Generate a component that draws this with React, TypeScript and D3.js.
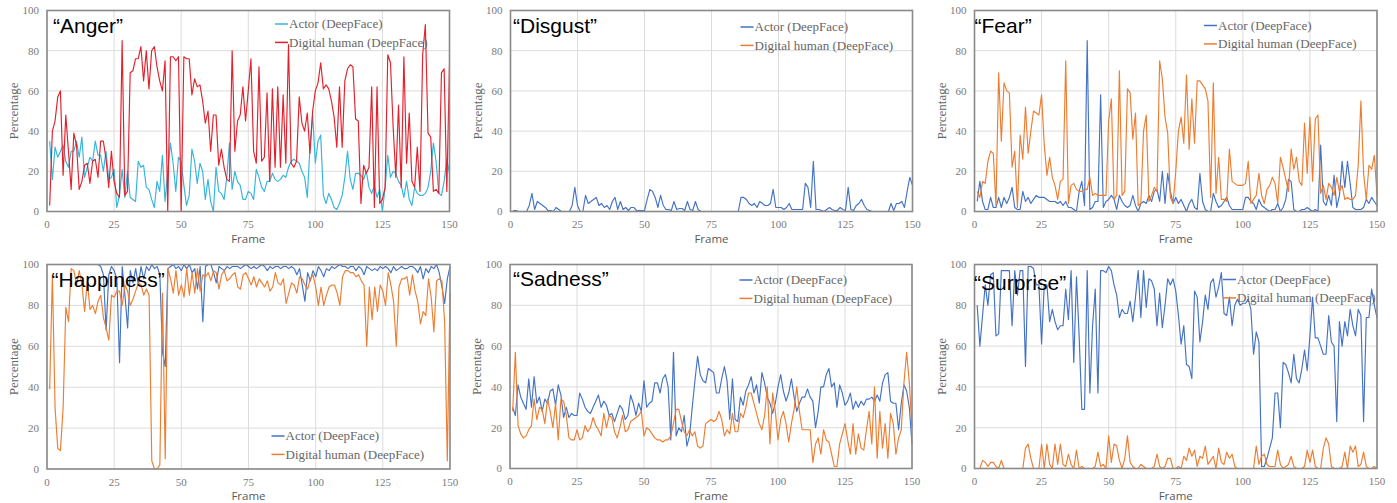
import React from "react";
import * as d3 from "d3";

// frames 1..150, percentages
const xTicks = [0, 25, 50, 75, 100, 125, 150];
const yTicks = [0, 20, 40, 60, 80, 100];
const legendLabels = ["Actor (DeepFace)", "Digital human (DeepFace)"];

const angerActor = [
  35, 16, 32, 27, 30, 33, 25, 22, 30, 30,
  35, 27, 37, 17, 22, 27, 25, 35, 28, 28,
  20, 30, 16, 17, 21, 2, 8, 21, 7, 20,
  7, 6, 5, 25, 22, 23, 12, 11, 6, 2,
  15, 10, 28, 5, 20, 34, 24, 10, 27, 25,
  13, 3, 8, 31, 25, 14, 24, 20, 6, 16,
  5, 0, 22, 10, 9, 6, 17, 34, 11, 20,
  15, 13, 6, 6, 10, 9, 6, 21, 17, 12,
  10, 15, 15, 19, 16, 15, 16, 18, 17, 22,
  25, 26, 25, 24, 20, 17, 7, 32, 48, 24,
  35, 38, 8, 4, 9, 6, 2, 1, 4, 8,
  17, 30, 16, 11, 19, 19, 18, 16, 20, 12,
  9, 13, 7, 11, 0, 12, 28, 17, 20, 19,
  15, 13, 7, 15, 6, 3, 12, 9, 8, 8,
  9, 12, 20, 34, 25, 9, 8, 15, 26, 19,
];
const angerDigital = [
  3, 40, 45, 57, 60, 18, 48, 30, 11, 39,
  33, 11, 15, 23, 24, 14, 25, 26, 17, 35,
  35, 26, 12, 30, 15, 9, 7, 85, 8, 10,
  69, 70, 76, 76, 82, 65, 80, 61, 80, 82,
  72, 65, 60, 75, 0, 77, 77, 75, 77, 0,
  77, 76, 76, 58, 66, 62, 63, 55, 44, 50,
  30, 48, 48, 23, 31, 22, 16, 15, 80, 30,
  45, 48, 62, 45, 60, 76, 30, 24, 72, 25,
  27, 59, 15, 61, 22, 62, 22, 58, 24, 83,
  24, 22, 25, 57, 44, 40, 49, 29, 50, 60,
  64, 74, 61, 63, 61, 55, 47, 32, 62, 32,
  65, 71, 73, 72, 46, 45, 4, 23, 19, 22,
  62, 2, 62, 4, 6, 12, 78, 74, 42, 17,
  53, 12, 77, 24, 49, 15, 12, 32, 10, 78,
  93, 39, 37, 10, 11, 9, 69, 71, 10, 73,
];

const disgustActor = [
  0.5, 0.5, 0, 0, 0, 0, 3, 9, 1, 5,
  4, 3, 2, 0.5, 0.5, 0, 2, 1, 0, 0,
  0, 0, 3, 12, 3, 0, 0, 8, 4, 5,
  6, 7, 3, 4, 2, 3, 1, 5, 7, 1,
  5, 1, 2, 0.5, 2, 2, 0.5, 0.5, 0.5, 0.5,
  6, 11, 10, 7, 2, 8, 3, 1, 1, 0.5,
  5, 1, 1.5, 1.5, 0.5, 5, 1, 0.5, 5, 1,
  0, 0, 0, 0, 0, 0, 0, 0, 0, 0,
  0, 0, 0, 0, 0, 7, 7, 6, 4, 3,
  4, 2, 5, 4, 3, 3, 4, 11, 2, 2,
  2, 1, 2, 4, 1, 1, 1, 1, 1, 14,
  12, 2, 25, 1, 1, 0.5, 0, 1, 2, 1,
  0.5, 0.5, 2, 1, 0.5, 12, 1, 0.5, 3, 4,
  6, 3, 1, 0.5, 0, 0, 0, 0, 0, 0,
  0, 4, 0.5, 4, 4, 5, 2, 10, 17, 13,
];
const disgustDigital = [
  0, 0, 0, 0, 0, 0, 0, 0, 0, 0,
  0, 0, 0, 0, 0, 0, 0, 0, 0, 0,
  0, 0, 0, 0, 0, 0, 0, 0, 0, 0,
  0, 0, 0, 0, 0, 0, 0, 0, 0, 0,
  0, 0, 0, 0, 0, 0, 0, 0, 0, 0,
  0, 0, 0, 0, 0, 0, 0, 0, 0, 0,
  0, 0, 0, 0, 0, 0, 0, 0, 0, 0,
  0, 0, 0, 0, 0, 0, 0, 0, 0, 0,
  0, 0, 0, 0, 0, 0, 0, 0, 0, 0,
  0, 0, 0, 0, 0, 0, 0, 0, 0, 0,
  0, 0, 0, 0, 0, 0, 0, 0, 0, 0,
  0, 0, 0, 0, 0, 0, 0, 0, 0, 0,
  0, 0, 0, 0, 0, 0, 0, 0, 0, 0,
  0, 0, 0, 0, 0, 0, 0, 0, 0, 0,
  0, 0, 0, 0, 0, 0, 0, 0, 0, 0,
];

const fearActor = [
  5, 15, 5, 1, 1, 7, 2, 2, 7, 2,
  7, 4, 7, 12, 2, 1, 1, 10, 5, 7,
  4, 6, 8, 7, 7, 7, 6, 5, 5, 5,
  4, 5, 3, 5, 2, 2, 1, 0, 10, 15,
  3, 85, 1, 2, 5, 5, 58, 2, 5, 6,
  8, 6, 1, 8, 5, 3, 2, 3, 8, 3,
  0, 4, 5, 4, 8, 5, 10, 11, 5, 20,
  4, 19, 10, 4, 7, 4, 6, 3, 0, 4,
  6, 2, 1, 19, 5, 1, 0, 0, 9, 5,
  2, 3, 5, 7, 3, 1, 1, 1, 1, 1,
  7, 7, 5, 4, 1, 6, 3, 2, 1, 0,
  1, 1, 4, 0, 2, 6, 16, 15, 1, 0,
  0, 1, 1, 2, 1, 0, 1, 0, 33, 5,
  3, 8, 3, 18, 2, 8, 25, 12, 25, 14,
  2, 1, 1, 1, 2, 6, 4, 7, 5, 3,
];
const fearDigital = [
  10, 7, 15, 14, 25, 30, 29, 3, 69, 35,
  64, 60, 59, 22, 30, 2, 38, 26, 52, 29,
  40, 50, 49, 48, 58, 33, 18, 27, 17, 13,
  6, 15, 16, 75, 4, 13, 14, 11, 10, 10,
  11, 11, 17, 8, 9, 8, 8, 8, 8, 45,
  56, 6, 8, 70, 8, 10, 61, 59, 36, 49,
  3, 4, 40, 48, 5, 8, 12, 10, 75, 66,
  47, 39, 7, 4, 20, 40, 47, 34, 68, 31,
  56, 34, 65, 65, 63, 61, 55, 7, 64, 9,
  27, 6, 6, 5, 31, 15, 14, 13, 13, 13,
  14, 25, 4, 6, 8, 19, 8, 4, 11, 13,
  17, 14, 4, 27, 22, 16, 10, 31, 21, 27,
  15, 13, 44, 19, 47, 15, 46, 48, 9, 13,
  6, 14, 12, 8, 17, 10, 13, 6, 7, 6,
  6, 8, 23, 55, 19, 6, 23, 21, 28, 8,
];

const happinessActor = [
  100, 100, 100, 100, 100, 100, 100, 100, 100, 100,
  100, 100, 100, 100, 100, 100, 100, 100, 100, 99,
  95, 68, 95, 99, 97, 93, 52, 99, 85, 69,
  97, 91, 98, 90, 99, 93, 99, 97, 100, 98,
  99, 95, 57, 50, 98, 99, 100, 98, 99, 97,
  100, 98, 100, 96, 98, 88, 99, 72, 99, 100,
  100, 96, 91, 99, 98, 97, 99, 98, 99, 99,
  99, 98, 99, 100, 99, 98, 99, 98, 99, 100,
  99, 97, 99, 98, 99, 99, 98, 99, 99, 98,
  99, 98, 95, 98, 90, 82, 96, 92, 97, 94,
  99, 97, 94, 98, 97, 99, 98, 99, 100, 99,
  99, 98, 99, 99, 97, 99, 98, 95, 99, 98,
  97, 98, 97, 99, 98, 99, 98, 96, 99, 97,
  98, 99, 98, 98, 99, 99, 98, 96, 99, 93,
  98, 96, 99, 98, 100, 96, 89, 81, 93, 99,
];
const happinessDigital = [
  39, 95, 30, 10, 9, 30, 79, 72, 98, 97,
  90, 97, 90, 77, 92, 78, 80, 76, 82, 85,
  74, 69, 63, 85, 84, 87, 87, 80, 90, 87,
  80, 83, 87, 91, 90, 85, 88, 85, 4, 0,
  0, 2, 86, 5, 98, 93, 86, 97, 85, 90,
  84, 98, 85, 96, 86, 98, 87, 95, 94, 96,
  92, 97, 96, 88, 95, 97, 92, 93, 95, 96,
  89, 88, 95, 96, 93, 90, 94, 89, 93, 91,
  89, 92, 87, 89, 96, 91, 90, 93, 81, 86,
  91, 90, 86, 94, 93, 90, 88, 93, 95, 89,
  80, 89, 80, 85, 89, 90, 90, 86, 80, 94,
  97, 97, 96, 96, 94, 95, 92, 90, 60, 89,
  73, 89, 77, 90, 87, 80, 96, 90, 82, 60,
  89, 93, 93, 94, 85, 95, 87, 82, 71, 77,
  75, 93, 84, 67, 92, 93, 92, 72, 4, 86,
];

const sadnessActor = [
  30, 26, 41, 35, 32, 29, 44, 30, 45, 32,
  35, 28, 34, 32, 38, 39, 31, 41, 36, 25,
  30, 25, 27, 26, 26, 37, 34, 30, 28, 27,
  30, 33, 36, 30, 33, 31, 26, 27, 23, 27,
  31, 29, 24, 26, 36, 32, 26, 32, 28, 43,
  30, 32, 33, 42, 42, 37, 44, 46, 40, 14,
  57, 16, 20, 18, 26, 11, 16, 30, 43, 55,
  46, 43, 42, 49, 48, 47, 37, 37, 44, 50,
  43, 24, 44, 24, 23, 35, 31, 38, 41, 45,
  37, 41, 32, 47, 42, 35, 32, 27, 32, 40,
  46, 38, 33, 37, 44, 35, 28, 32, 35, 35,
  39, 35, 33, 20, 28, 40, 40, 46, 49, 40,
  42, 30, 41, 37, 31, 33, 37, 29, 33, 30,
  33, 31, 34, 34, 35, 33, 36, 33, 42, 46,
  47, 33, 32, 32, 19, 32, 41, 38, 30, 12,
];
const sadnessDigital = [
  28, 57, 21, 17, 15, 16, 19, 21, 34, 24,
  30, 29, 22, 34, 28, 20, 32, 14, 34, 33,
  26, 15, 14, 14, 19, 14, 15, 21, 18, 20,
  25, 21, 19, 16, 27, 20, 26, 25, 18, 15,
  20, 26, 18, 19, 23, 24, 25, 26, 28, 16,
  20, 19, 17, 15, 14, 14, 13, 14, 14, 16,
  22, 29, 29, 23, 18, 16, 19, 16, 18, 11,
  10, 11, 22, 23, 24, 23, 24, 28, 24, 16,
  19, 17, 27, 18, 18, 27, 25, 30, 37, 37,
  32, 27, 22, 19, 26, 40, 12, 37, 28, 14,
  24, 28, 22, 13, 22, 29, 40, 28, 19, 19,
  19, 19, 3, 12, 15, 7, 19, 14, 13, 7,
  1, 1, 12, 17, 22, 14, 7, 22, 7, 17,
  10, 9, 19, 28, 12, 40, 5, 28, 10, 22,
  5, 27, 22, 7, 15, 19, 42, 57, 42, 20,
];

const surpriseActor = [
  80, 60, 75, 90, 80, 95, 96, 65, 66, 97,
  97, 97, 97, 70, 97, 85, 97, 97, 50, 99,
  99, 98, 90, 90, 61, 90, 90, 72, 78, 72,
  68, 70, 70, 88, 73, 97, 52, 94, 65, 29,
  29, 97, 37, 70, 88, 37, 97, 97, 96, 99,
  97, 90, 85, 74, 78, 76, 76, 82, 72, 84,
  97, 74, 97, 79, 93, 92, 88, 70, 86, 69,
  80, 93, 90, 93, 87, 75, 61, 70, 51, 50,
  44, 87, 84, 62, 72, 85, 78, 91, 93, 84,
  89, 96, 76, 75, 84, 70, 80, 83, 80, 81,
  81, 83, 78, 56, 67, 62, 1, 1, 5, 10,
  15, 37, 37, 20, 52, 51, 47, 42, 56, 44,
  42, 49, 58, 48, 65, 84, 64, 64, 60, 56,
  56, 75, 62, 60, 23, 72, 60, 72, 65, 78,
  70, 65, 78, 75, 23, 74, 74, 88, 80, 74,
];
const surpriseDigital = [
  0, 0, 4, 3, 1, 3, 3, 1, 0, 4,
  0, 0, 0, 0, 0, 0, 0, 0, 10, 12,
  5, 0, 0, 0, 12, 0, 12, 2, 0, 12,
  2, 12, 2, 1, 7, 2, 0, 9, 0, 1,
  0, 0, 0, 0, 1, 8, 1, 2, 0, 16,
  3, 12, 11, 4, 0, 5, 16, 3, 1, 0,
  0, 2, 1, 0, 0, 0, 1, 7, 1, 0,
  1, 5, 5, 0, 0, 1, 0, 6, 4, 10,
  6, 9, 1, 6, 5, 11, 2, 4, 6, 0,
  10, 3, 2, 8, 5, 7, 1, 0, 0, 0,
  0, 0, 0, 0, 11, 2, 6, 7, 2, 1,
  1, 1, 9, 2, 0, 1, 2, 6, 1, 0,
  0, 0, 1, 9, 3, 9, 1, 0, 0, 10,
  15, 12, 1, 0, 0, 0, 1, 8, 0, 11,
  8, 11, 1, 2, 8, 1, 0, 0, 1, 0,
];

const BLUE = "#4472C4";
const ORANGE = "#ED7D31";

const panels = [
  { title: "“Anger”", series: [angerActor, angerDigital], colors: ["#35B4DC", "#E3202B"] },
  { title: "“Disgust”", series: [disgustActor, disgustDigital], colors: [BLUE, ORANGE] },
  { title: "“Fear”", series: [fearActor, fearDigital], colors: [BLUE, ORANGE] },
  { title: "“Happiness”", series: [happinessActor, happinessDigital], colors: [BLUE, ORANGE] },
  { title: "“Sadness”", series: [sadnessActor, sadnessDigital], colors: [BLUE, ORANGE] },
  { title: "“Surprise”", series: [surpriseActor, surpriseDigital], colors: [BLUE, ORANGE] },
];

// plot-area boxes and where the titles / legends sit
const layout = [
  { x0: 47, x1: 449.5, y0: 10.5, y1: 211.5, title: [53, 33], legend: [275, 24] },
  { x0: 510.5, x1: 912.5, y0: 10.5, y1: 211.5, title: [513, 33], legend: [740.5, 27] },
  { x0: 974.5, x1: 1377, y0: 10.5, y1: 211.5, title: [974.5, 33], legend: [1204, 25.5] },
  { x0: 47, x1: 450, y0: 264.5, y1: 469, title: [51.5, 287], legend: [271.5, 436] },
  { x0: 510, x1: 912, y0: 264.5, y1: 468.5, title: [513, 286], legend: [739.5, 280] },
  { x0: 974.5, x1: 1377, y0: 264.5, y1: 468.5, title: [974, 290], legend: [1223, 279.5] },
];

const SERIF = "'Liberation Serif', 'Times New Roman', serif";
const SANS = "'Liberation Sans', Arial, sans-serif";

function Panel({ p, l }) {
  const x = d3.scaleLinear().domain([0, 150]).range([l.x0, l.x1]);
  const y = d3.scaleLinear().domain([0, 100]).range([l.y1, l.y0]);
  const line = d3
    .line<number>()
    .x((_, i) => x(i + 1))
    .y((d) => y(d));
  const midX = (l.x0 + l.x1) / 2;
  const midY = (l.y0 + l.y1) / 2;

  return (
    <g>
      {/* grid */}
      {xTicks.map((t) => (
        <line key={"gx" + t} x1={x(t)} x2={x(t)} y1={l.y0} y2={l.y1} stroke="#dcdcdc" strokeWidth={1} />
      ))}
      {yTicks.map((t) => (
        <line key={"gy" + t} x1={l.x0} x2={l.x1} y1={y(t)} y2={y(t)} stroke="#dcdcdc" strokeWidth={1} />
      ))}

      {/* series */}
      {p.series.map((s, i) => (
        <path key={i} d={line(s) || ""} fill="none" stroke={p.colors[i]} strokeWidth={1.15} strokeLinejoin="round" />
      ))}

      {/* plot border */}
      <rect x={l.x0} y={l.y0} width={l.x1 - l.x0} height={l.y1 - l.y0} fill="none" stroke="#8a8a8a" strokeWidth={1.6} />

      {/* tick labels */}
      {yTicks.map((t) => (
        <text key={"ty" + t} x={l.x0 - 8} y={y(t)} dy="0.35em" textAnchor="end" fontFamily={SERIF} fontSize={11} fill="#7a7a7a">
          {t}
        </text>
      ))}
      {xTicks.map((t) => (
        <text key={"tx" + t} x={x(t)} y={l.y1 + 16.5} textAnchor="middle" fontFamily={SERIF} fontSize={11} fill="#7a7a7a">
          {t}
        </text>
      ))}

      <text
        transform={`translate(${l.x0 - 29},${midY}) rotate(-90)`}
        textAnchor="middle"
        fontFamily={SERIF}
        fontSize={13}
        fill="#666"
      >
        Percentage
      </text>
      <text x={midX} y={l.y1 + 31} textAnchor="middle" fontFamily="'Open Sans', sans-serif" fontSize={11.5} fill="#595959">
        Frame
      </text>

      <text x={l.title[0]} y={l.title[1]} fontFamily={SANS} fontSize={21} fill="#000">
        {p.title}
      </text>

      {/* legend */}
      {legendLabels.map((lab, i) => {
        const ly = l.legend[1] + i * 18.4;
        return (
          <g key={lab}>
            <line x1={l.legend[0]} x2={l.legend[0] + 13} y1={ly} y2={ly} stroke={p.colors[i]} strokeWidth={1.5} />
            <text x={l.legend[0] + 14} y={ly} dy="0.33em" fontFamily={SERIF} fontSize={13} fill="#666">
              {lab}
            </text>
          </g>
        );
      })}
    </g>
  );
}

export default function App() {
  return (
    <svg
      width={1397}
      height={503}
      style={{ position: "absolute", left: 0, top: 0, background: "#fff" }}
    >
      <rect width={1397} height={503} fill="#fff" />
      {panels.map((p, i) => (
        <Panel key={i} p={p} l={layout[i]} />
      ))}
    </svg>
  );
}
